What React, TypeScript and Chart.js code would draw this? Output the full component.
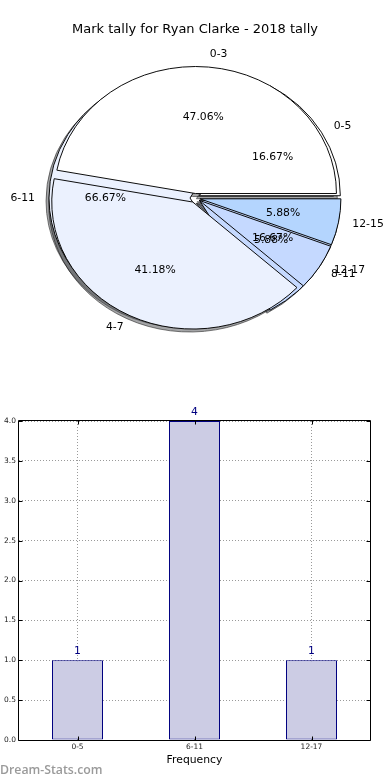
import React, { useEffect, useRef } from 'react';
import { Chart, registerables } from 'chart.js';

Chart.register(...registerables);

// ---- data ----
const pieTitle = 'Mark tally for Ryan Clarke - 2018 tally';
const markLabels = ['0-3', '4-7', '8-11', '12-15'];
const markValues = [8, 7, 1, 1];
const markColors = ['#ffffff', '#ebf1fe', '#c5d9ff', '#b4d5fe'];
const freqLabels = ['0-5', '6-11', '12-17'];
const freqValues = [1, 4, 1];
const freqColors = ['#ffffff', '#ebf1fe', '#c5d9ff'];
const yMin = 0;
const yMax = 4;
const yStep = 0.5;
const xAxisTitle = 'Frequency';
const watermark = 'Dream-Stats.com';

// ---- style ----
const FONT = "'DejaVu Sans', sans-serif";
const RADIUS = 141;
const Y_RATIO = 127 / 141;
const EXPLODE = 5;

function ellipse(ctx: CanvasRenderingContext2D, cx: number, cy: number) {
  ctx.translate(cx, cy);
  ctx.scale(1, -Y_RATIO);
  ctx.translate(-cx, -cy);
}

function drawArcs(ctx: CanvasRenderingContext2D, arcs: any[]) {
  arcs.forEach((a) => {
    const mid = (a.startAngle + a.endAngle) / 2;
    ctx.save();
    ellipse(ctx, a.x, a.y);
    ctx.translate(Math.cos(mid) * EXPLODE, Math.sin(mid) * EXPLODE);
    a.draw(ctx);
    ctx.restore();
  });
}

function drawShadows(ctx: CanvasRenderingContext2D, arcs: any[]) {
  ctx.save();
  ctx.translate(-3, 3);
  (ctx as any).filter = 'brightness(0.3) opacity(0.5)';
  drawArcs(ctx, arcs);
  ctx.restore();
}

// top pie: wedges only (shadows are painted below, on the bottom layer)
const topWedges = {
  id: 'topWedges',
  beforeDatasetsDraw(chart: any) {
    drawArcs(chart.ctx, chart.getDatasetMeta(0).data as any[]);
    return false;
  },
};

// bottom pie: shadows of both pies, then its own wedges
function makeBottomWedges(top: any) {
  return {
    id: 'bottomWedges',
    beforeDatasetsDraw(chart: any) {
      const ctx = chart.ctx as CanvasRenderingContext2D;
      const own = chart.getDatasetMeta(0).data as any[];
      drawShadows(ctx, own);
      drawShadows(ctx, top.getDatasetMeta(0).data as any[]);
      drawArcs(ctx, own);
      return false;
    },
  };
}

function drawPieTexts(ctx: CanvasRenderingContext2D, chart: any, labels: string[], values: number[]) {
  const arcs = chart.getDatasetMeta(0).data as any[];
  const total = values.reduce((s, v) => s + v, 0);
  ctx.fillStyle = '#000';
  ctx.font = `10.8px ${FONT}`;
  ctx.textBaseline = 'middle';
  arcs.forEach((arc, i) => {
    const mid = (arc.startAngle + arc.endAngle) / 2;
    const c = Math.cos(mid);
    const s = Math.sin(mid);
    const r = arc.outerRadius;
    const cx = arc.x + EXPLODE * c;
    const cy = arc.y - EXPLODE * Y_RATIO * s;
    ctx.textAlign = c > 0 ? 'left' : 'right';
    ctx.fillText(labels[i], cx + 1.1 * r * c, cy - 1.1 * r * Y_RATIO * s);
    ctx.textAlign = 'center';
    const pct = ((values[i] / total) * 100).toFixed(2) + '%';
    ctx.fillText(pct, cx + 0.6 * r * c, cy - 0.6 * r * Y_RATIO * s);
  });
}

function makeTextPlugin(holder: { other: any }) {
  return {
    id: 'pieTexts',
    afterDraw(chart: any) {
      const ctx = chart.ctx as CanvasRenderingContext2D;
      ctx.save();
      ctx.fillStyle = '#000';
      ctx.font = `13px ${FONT}`;
      ctx.textAlign = 'center';
      ctx.textBaseline = 'middle';
      ctx.fillText(pieTitle, chart.width / 2, 30);
      if (holder.other) drawPieTexts(ctx, holder.other, freqLabels, freqValues);
      drawPieTexts(ctx, chart, markLabels, markValues);
      ctx.restore();
    },
  };
}

const barExtras = {
  id: 'barExtras',
  afterDatasetsDraw(chart: any) {
    const ctx = chart.ctx as CanvasRenderingContext2D;
    const bars = chart.getDatasetMeta(0).data as any[];
    ctx.save();
    ctx.fillStyle = '#000080';
    ctx.font = `10.8px ${FONT}`;
    ctx.textAlign = 'center';
    ctx.textBaseline = 'middle';
    bars.forEach((b, i) => {
      ctx.fillText(String(freqValues[i]), b.x, b.y - 9);
    });
    ctx.restore();
  },
  afterDraw(chart: any) {
    const ctx = chart.ctx as CanvasRenderingContext2D;
    const { left, right, top, bottom } = chart.chartArea;
    const xs = chart.scales.x;
    const ys = chart.scales.y;
    ctx.save();
    ctx.strokeStyle = '#000';
    ctx.lineWidth = 1;
    ctx.beginPath();
    const L = Math.round(left) - 0.5;
    const R = Math.round(right) + 0.5;
    const T = Math.round(top) - 0.5;
    const B = Math.round(bottom) + 0.5;
    ctx.rect(L, T, R - L, B - T);
    ys.ticks.forEach((t: any) => {
      const y = Math.round(ys.getPixelForValue(t.value)) + 0.5;
      ctx.moveTo(L, y); ctx.lineTo(L + 4, y);
      ctx.moveTo(R, y); ctx.lineTo(R - 4, y);
    });
    xs.ticks.forEach((_t: any, i: number) => {
      const x = Math.round(xs.getPixelForTick(i)) + 0.5;
      ctx.moveTo(x, B); ctx.lineTo(x, B - 4);
      ctx.moveTo(x, T); ctx.lineTo(x, T + 4);
    });
    ctx.stroke();
    ctx.fillStyle = '#9a9a9a';
    ctx.font = `600 12.3px 'Open Sans', sans-serif`;
    ctx.textAlign = 'left';
    ctx.textBaseline = 'middle';
    ctx.fillText(watermark, 0, chart.height - 10);
    ctx.restore();
  },
};

function pieConfig(labels: string[], values: number[], colors: string[], plugins: any[]) {
  return {
    type: 'pie' as const,
    data: {
      labels,
      datasets: [
        {
          data: values,
          backgroundColor: colors,
          borderColor: '#000',
          borderWidth: 1,
          borderJoinStyle: 'miter',
          offset: 0,
        },
      ],
    },
    options: {
      animation: false,
      responsive: false,
      events: [],
      rotation: 90,
      radius: RADIUS,
      layout: { padding: { top: 2, bottom: 0, left: 0, right: 0 } },
      plugins: { legend: { display: false }, tooltip: { enabled: false }, title: { display: false } },
    },
    plugins,
  };
}

export default function App() {
  const pieBRef = useRef<HTMLCanvasElement>(null);
  const pieARef = useRef<HTMLCanvasElement>(null);
  const barRef = useRef<HTMLCanvasElement>(null);

  useEffect(() => {
    document.body.style.margin = '0';
    const holder: { other: any } = { other: null };
    const chartA = new Chart(
      pieARef.current!,
      pieConfig(markLabels, markValues, markColors, [topWedges, makeTextPlugin(holder)]) as any
    );
    const chartB = new Chart(
      pieBRef.current!,
      pieConfig(freqLabels, freqValues, freqColors, [makeBottomWedges(chartA)]) as any
    );
    holder.other = chartB;
    chartA.draw();

    const tickFont = { family: FONT, size: 7.5 };
    const bar = new Chart(barRef.current!, {
      type: 'bar',
      data: {
        labels: freqLabels,
        datasets: [
          {
            data: freqValues,
            backgroundColor: '#cccce4',
            borderColor: '#000080',
            borderWidth: 1,
            borderSkipped: false,
            barPercentage: 0.436,
            categoryPercentage: 1,
          },
        ],
      },
      options: {
        animation: false,
        responsive: false,
        events: [],
        layout: { padding: { top: 27, right: 20, bottom: 13, left: 0 } },
        plugins: { legend: { display: false }, tooltip: { enabled: false } },
        scales: {
          x: {
            z: 1,
            offset: true,
            grid: { offset: false, color: '#9a9a9a', lineWidth: 1, drawTicks: false },
            border: { display: false, dash: [1, 2] },
            ticks: { padding: 3, color: '#222', font: tickFont, maxRotation: 0 },
            title: { display: true, text: xAxisTitle, color: '#000', font: { family: FONT, size: 10.8 }, padding: 0 },
            afterFit(s: any) { s.height = 27; },
          },
          y: {
            z: 1,
            min: yMin,
            max: yMax,
            grid: { color: '#9a9a9a', lineWidth: 1, drawTicks: false },
            border: { display: false, dash: [1, 2] },
            ticks: {
              stepSize: yStep,
              padding: 3,
              color: '#222',
              font: tickFont,
              callback: (v: any) => Number(v).toFixed(1),
            },
            afterFit(s: any) { s.width = 19; },
          },
        },
      },
      plugins: [barExtras],
    } as any);
    return () => {
      chartA.destroy();
      chartB.destroy();
      bar.destroy();
    };
  }, []);

  return (
    <div style={{ width: 390, height: 780, background: '#fff' }}>
      <div style={{ position: 'relative', width: 390, height: 394 }}>
        <canvas ref={pieBRef} width={390} height={394} style={{ position: 'absolute', left: 0, top: 0 }} />
        <canvas ref={pieARef} width={390} height={394} style={{ position: 'absolute', left: 0, top: 0 }} />
      </div>
      <canvas ref={barRef} width={390} height={386} style={{ display: 'block' }} />
    </div>
  );
}
